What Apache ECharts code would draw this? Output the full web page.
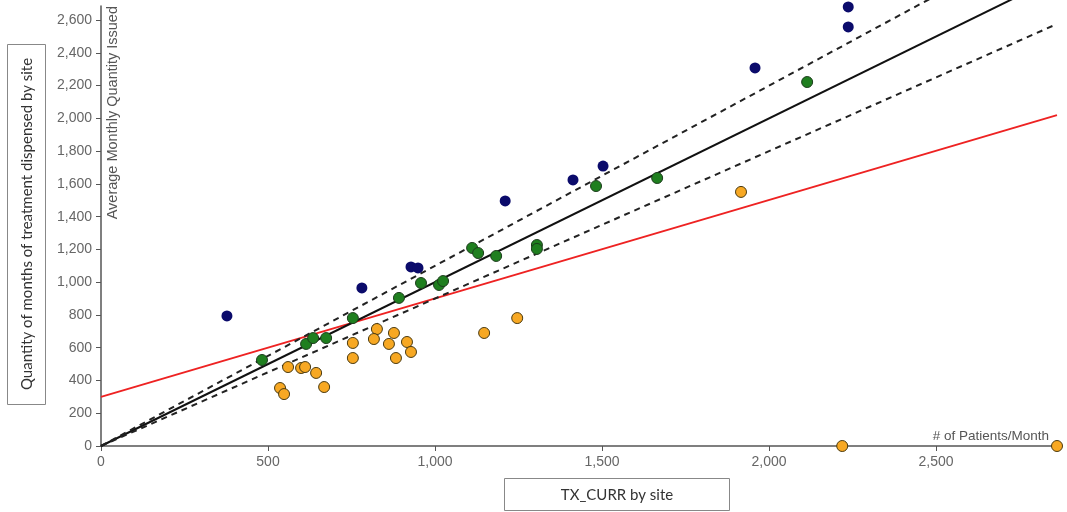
<!DOCTYPE html>
<html>
<head>
<meta charset="utf-8">
<script src="https://cdn.jsdelivr.net/npm/echarts@6/dist/echarts.min.js"></script>
<style>
html,body{margin:0;padding:0;background:#fff;}
#c{width:1067px;height:512px;}
</style>
</head>
<body>
<div id="c"></div>
<script>
// Navy points [patients/month, avg monthly quantity]
const navyPts = [[377,794],[781,965],[928,1093],[949,1087],[1210,1496],[1413,1624],[1503,1709],[1958,2308],[2237,2558],[2237,2680]];
// Green points
const greenPts = [[482,525],[614,623],[635,659],[674,659],[754,781],[892,904],[958,995],[1012,983],[1024,1007],[1111,1209],[1129,1178],[1183,1160],[1305,1227],[1305,1203],[1482,1587],[1665,1636],[2114,2222]];
// Orange points
const orangePts = [[536,354],[548,317],[560,482],[599,476],[611,482],[644,446],[668,360],[754,629],[754,537],[826,714],[817,653],[862,623],[877,690],[883,537],[916,635],[928,574],[1147,690],[1246,781],[1916,1551],[2219,0],[2862,0]];
// Reference lines (endpoints)
const lineMid = [[0,0],[2862,2862]];
const lineUpper = [[0,0],[2862,3148]];
const lineLower = [[0,0],[2862,2576]];
const lineRed = [[0,300],[2862,2020]];
// Tick values
const xTicks = [0,500,1000,1500,2000,2500];
const yTicks = [0,200,400,600,800,1000,1200,1400,1600,1800,2000,2200,2400,2600];

const allPts = navyPts.concat(greenPts, orangePts);
const xMax = Math.max(...allPts.map(p=>p[0]));
const yMax = 2686;

const axisColor = '#555';
const labelColor = '#666';
const fmt = v => v.toLocaleString('en-US');
const font = 'Arial, "Liberation Sans", sans-serif';

const chart = echarts.init(document.getElementById('c'));
chart.setOption({
  animation:false,
  grid:{left:101,right:10,top:6,bottom:66,containLabel:false,outerBoundsMode:'none'},
  xAxis:{
    type:'value', min:0, max:xMax, interval:500,
    splitLine:{show:false},
    axisLine:{lineStyle:{color:axisColor,width:1.5}},
    axisTick:{show:true,length:5,lineStyle:{color:axisColor}},
    axisLabel:{color:labelColor,fontSize:14,fontFamily:font,margin:9,
      formatter:v=> xTicks.includes(v)?fmt(v):'' , showMaxLabel:false},
    name:'# of Patients/Month', nameLocation:'end', nameGap:-8,
    nameTextStyle:{color:'#555',fontSize:13.5,fontFamily:font,align:'right',verticalAlign:'bottom',padding:[0,0,3,0]}
  },
  yAxis:{
    type:'value', min:0, max:yMax, interval:200,
    splitLine:{show:false},
    axisLine:{lineStyle:{color:axisColor,width:1.5}},
    axisTick:{show:true,length:5,lineStyle:{color:axisColor}},
    axisLabel:{color:labelColor,fontSize:14,fontFamily:font,margin:9,
      formatter:v=> yTicks.includes(v)?fmt(v):'', showMaxLabel:false}
  },
  series:[
    {type:'line',data:lineRed,symbol:'none',clip:false,lineStyle:{color:'#ee2222',width:2},z:2},
    {type:'line',data:lineMid,symbol:'none',clip:false,lineStyle:{color:'#111',width:2},z:2},
    {type:'line',data:lineUpper,symbol:'none',clip:false,lineStyle:{color:'#222',width:2,type:[6,5]},z:2},
    {type:'line',data:lineLower,symbol:'none',clip:false,lineStyle:{color:'#222',width:2,type:[6,5]},z:2},
    {type:'scatter',data:orangePts,symbolSize:11,clip:false,itemStyle:{color:'#f7a823',borderColor:'#4a3a10',borderWidth:1,opacity:1},z:3},
    {type:'scatter',data:greenPts,symbolSize:11,clip:false,itemStyle:{color:'#1f7f1f',borderColor:'#1c3d1c',borderWidth:1,opacity:1},z:3},
    {type:'scatter',data:navyPts,symbolSize:11,clip:false,itemStyle:{color:'#0b0b6b',opacity:1},z:3}
  ],
  graphic:[
    {type:'text',x:113,y:6,rotation:Math.PI/2,style:{text:'Average Monthly Quantity Issued',fill:'#555',font:'14.5px Arial, "Liberation Sans", sans-serif',textAlign:'right',textVerticalAlign:'middle'}},
    {type:'rect',shape:{x:7.5,y:44.5,width:38,height:360},style:{fill:'#fff',stroke:'#888',lineWidth:1}},
    {type:'text',x:27,y:224,rotation:Math.PI/2,style:{text:'Quantity of months of treatment dispensed by site',fill:'#333',font:'15px Lato, "Open Sans", sans-serif',textAlign:'center',textVerticalAlign:'middle'}},
    {type:'rect',shape:{x:504.5,y:478.5,width:225,height:32},style:{fill:'#fff',stroke:'#888',lineWidth:1}},
    {type:'text',x:617,y:495,style:{text:'TX_CURR by site',fill:'#333',font:'15px Lato, "Open Sans", sans-serif',textAlign:'center',textVerticalAlign:'middle'}}
  ]
});
</script>
</body>
</html>
